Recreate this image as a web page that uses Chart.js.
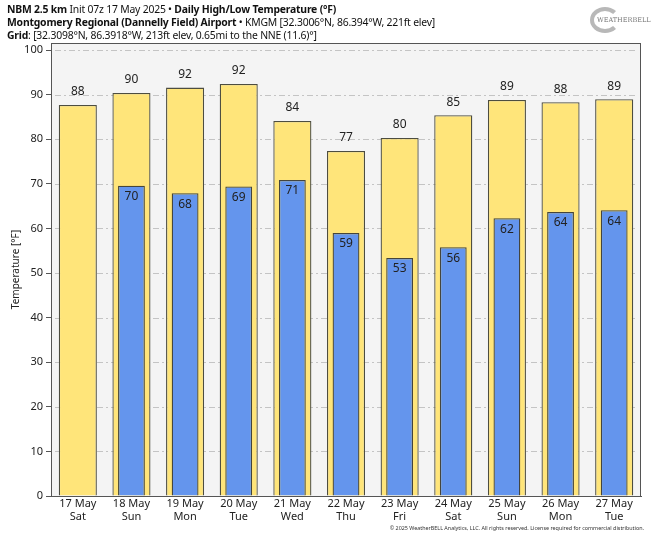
<!DOCTYPE html>
<html>
<head>
  <meta charset="utf-8">
  <title>Daily High/Low Temperature</title>
  <script src="https://cdn.jsdelivr.net/npm/chart.js@4.4.1/dist/chart.umd.min.js"></script>
  <style>
    body { margin: 0; background: white; font-family: "Noto Sans", sans-serif; }
    .wrap { position: relative; width: 656px; height: 538px; }
    canvas { position: absolute; left: 0; top: 0; }
    .hdr { position: absolute; left: 7px; font-size: 10.4px; line-height: 13px; color: #111; white-space: nowrap; letter-spacing: -0.2px; }
    .hdr b { font-weight: bold; }
    .copy { position: absolute; right: 12px; top: 524px; font-size: 5.4px; color: #333; white-space: nowrap; }
    .logo { position: absolute; left: 590px; top: 5px; width: 58px; height: 30px; }
    .logo .swirl { position: absolute; left: 0; top: 2px; width: 30px; height: 26px; border-radius: 50%; border: 4px solid #b8b8b8; border-right-color: transparent; box-sizing: border-box; }
    .logo .txt { position: absolute; left: 7px; top: 11px; font-size: 6.5px; color: #777; font-family: "DejaVu Serif", serif; }
  </style>
</head>
<body>
  <div class="wrap">
    <canvas id="tempChart" width="656" height="538"></canvas>
    <div class="hdr" style="top:3px"><b>NBM 2.5 km</b> Init 07z 17 May 2025 &bull; <b>Daily High/Low Temperature (&deg;F)</b></div>
    <div class="hdr" style="top:16px"><b>Montgomery Regional (Dannelly Field) Airport</b> &bull; KMGM [32.3006&deg;N, 86.394&deg;W, 221ft elev]</div>
    <div class="hdr" style="top:29px"><b>Grid</b>: [32.3098&deg;N, 86.3918&deg;W, 213ft elev, 0.65mi to the NNE (11.6)&deg;]</div>
    <div class="logo"><div class="swirl"></div><div class="txt">WEATHERBELL</div></div>
    <div class="copy">&copy; 2025 WeatherBELL Analytics, LLC. All rights reserved. License required for commercial distribution.</div>
  </div>

  <script>
    var days = ["17 May", "18 May", "19 May", "20 May", "21 May", "22 May", "23 May", "24 May", "25 May", "26 May", "27 May"];
    var weekdays = ["Sat", "Sun", "Mon", "Tue", "Wed", "Thu", "Fri", "Sat", "Sun", "Mon", "Tue"];
    var highs = [87.7, 90.4, 91.6, 92.4, 84.1, 77.4, 80.3, 85.4, 88.8, 88.3, 89.0];
    var lows = [null, 69.6, 67.9, 69.4, 70.9, 59.0, 53.4, 55.8, 62.3, 63.7, 64.1];
    var yTicks = [0, 10, 20, 30, 40, 50, 60, 70, 80, 90, 100];

    var labels = days.map(function (d, i) { return [d, weekdays[i]]; });

    // plot background, dashed grid lines and frame
    var plotBack = {
      id: "plotBack",
      beforeDatasetsDraw: function (chart) {
        var ctx = chart.ctx, a = chart.chartArea, y = chart.scales.y;
        ctx.save();
        ctx.fillStyle = "#f4f4f4";
        ctx.fillRect(a.left, a.top, a.right - a.left, a.bottom - a.top);
        ctx.strokeStyle = "#c4c4c4";
        ctx.lineWidth = 1;
        ctx.setLineDash([6, 3, 2, 3]);
        yTicks.forEach(function (v) {
          if (v === 0) return;
          var py = Math.round(y.getPixelForValue(v)) + 0.5;
          ctx.beginPath();
          ctx.moveTo(a.left + 4, py);
          ctx.lineTo(a.right - 4, py);
          ctx.stroke();
        });
        ctx.restore();
      },
      afterDatasetsDraw: function (chart) {
        var ctx = chart.ctx, a = chart.chartArea;
        ctx.save();
        ctx.strokeStyle = "#555";
        ctx.lineWidth = 1;
        ctx.strokeRect(a.left + 0.5, a.top + 0.5, a.right - a.left - 1, a.bottom - a.top);
        ctx.restore();
      }
    };

    // value labels: highs above bar, lows inside bar top
    var valueLabels = {
      id: "valueLabels",
      afterDatasetsDraw: function (chart) {
        var ctx = chart.ctx;
        ctx.save();
        ctx.font = "12px 'Noto Sans'";
        ctx.fillStyle = "#222";
        ctx.textAlign = "center";
        ctx.textBaseline = "middle";
        chart.getDatasetMeta(1).data.forEach(function (bar, i) {
          ctx.fillText(Math.round(highs[i]), bar.x, bar.y - 13);
        });
        chart.getDatasetMeta(0).data.forEach(function (bar, i) {
          if (lows[i] == null) return;
          ctx.fillText(Math.round(lows[i]), bar.x, bar.y + 11);
        });
        ctx.restore();
      }
    };

    new Chart(document.getElementById("tempChart"), {
      type: "bar",
      data: {
        labels: labels,
        datasets: [
          {
            label: "Low",
            data: lows,
            backgroundColor: "#6495ed",
            borderColor: "#45453c",
            borderWidth: 1.3,
            borderSkipped: "bottom",
            grouped: false,
            barPercentage: 0.5,
            categoryPercentage: 1.0
          },
          {
            label: "High",
            data: highs,
            backgroundColor: "#ffe57a",
            borderColor: "#4d4d40",
            borderWidth: 1.3,
            borderSkipped: "bottom",
            grouped: false,
            barPercentage: 0.71,
            categoryPercentage: 1.0
          }
        ]
      },
      options: {
        responsive: false,
        animation: false,
        layout: { padding: { top: 43, right: 15, left: 10, bottom: 0 } },
        plugins: {
          legend: { display: false },
          tooltip: { enabled: false }
        },
        scales: {
          x: {
            grid: { display: false, drawTicks: false, tickLength: 0 },
            border: { color: "#555" },
            ticks: { color: "#222", font: { family: "Noto Sans", size: 11, lineHeight: 1.15 }, padding: 2, maxRotation: 0, autoSkip: false },
            afterFit: function (s) { s.height = 42; }
          },
          y: {
            min: 0,
            max: 101.6,
            afterBuildTicks: function (s) { s.ticks = yTicks.map(function (v) { return { value: v }; }); },
            grid: { drawOnChartArea: false, drawTicks: true, tickLength: 5, color: "#555" },
            border: { color: "#555" },
            ticks: { color: "#222", font: { family: "Noto Sans", size: 11 }, padding: 3 },
            title: { display: true, text: "Temperature [°F]", color: "#222", font: { family: "Noto Sans", size: 10 }, padding: 0 },
            afterFit: function (s) { s.width = 41; }
          }
        }
      },
      plugins: [plotBack, valueLabels]
    });
  </script>
</body>
</html>
